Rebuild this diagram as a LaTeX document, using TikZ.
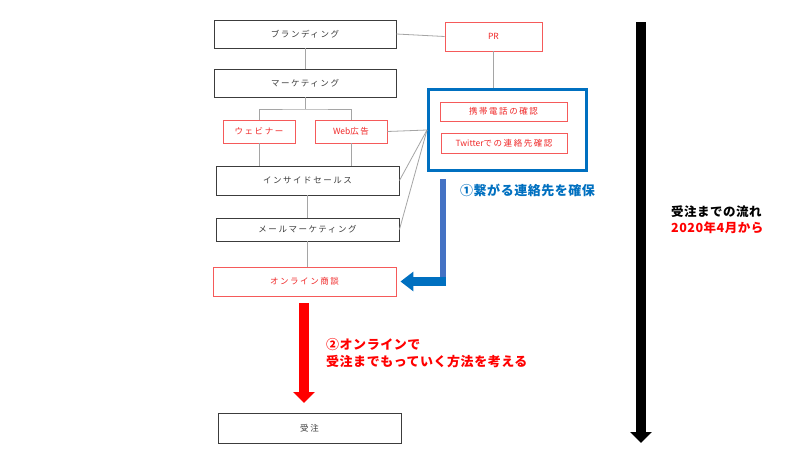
\documentclass[tikz,border=0pt]{standalone}
\usepackage{fontspec}
\setmainfont{Noto Sans CJK JP}
\newfontfamily\jpsp[LetterSpace=18]{Noto Sans CJK JP}
\newfontfamily\jpnl{Noto Sans CJK JP}
\newfontfamily\jphd[LetterSpace=4]{Noto Sans CJK JP}
\usetikzlibrary{arrows.meta}
\definecolor{boxgray}{RGB}{60,60,60}
\definecolor{linegray}{RGB}{165,165,165}
\definecolor{boxred}{RGB}{245,90,90}
\definecolor{txtred}{RGB}{240,40,40}
\definecolor{hdred}{RGB}{255,0,0}
\definecolor{bluedark}{RGB}{0,112,192}
\definecolor{bluelight}{RGB}{68,114,196}
\tikzset{
  gbox/.style={draw=boxgray, line width=0.9pt, rectangle, inner sep=0pt, text=boxgray, font=\jpsp\fontsize{8.5}{10}\selectfont},
  rbox/.style={draw=boxred, line width=0.9pt, rectangle, inner sep=0pt, text=txtred, font=\jpsp\fontsize{8.5}{10}\selectfont},
  conn/.style={draw=linegray, line width=0.8pt},
  hd/.style={anchor=west, inner sep=0pt, align=left, font=\jphd\bfseries\fontsize{13}{17}\selectfont}
}
\begin{document}
\begin{tikzpicture}[x=1pt,y=-1pt]
\useasboundingbox[fill=white] (0,0) rectangle (800,450);
% boxes
\node[gbox, minimum width=182pt, minimum height=28pt] (brand) at (305,34) {ブランディング};
\node[gbox, minimum width=182pt, minimum height=28pt] (mkt) at (305,83) {マーケティング};
\node[rbox, minimum width=97pt, minimum height=29pt] (pr) at (493.5,36.5) {\jpnl PR};
\node[rbox, minimum width=72pt, minimum height=23pt] (web) at (259,131.5) {ウェビナー};
\node[rbox, minimum width=72pt, minimum height=23pt] (wad) at (351,131.5) {{\jpnl Web}広告};
\node[gbox, minimum width=183pt, minimum height=29pt] (inside) at (307.5,180.5) {インサイドセールス};
\node[gbox, minimum width=183pt, minimum height=23pt] (mail) at (307.5,229.5) {メールマーケティング};
\node[rbox, minimum width=183pt, minimum height=29pt] (online) at (304.5,281.5) {オンライン商談};
\node[gbox, minimum width=183pt, minimum height=30pt] (order) at (309.5,428) {受注};
\node[draw=bluedark, line width=3pt, rectangle, inner sep=0pt, minimum width=158pt, minimum height=81pt] (bbox) at (507.5,130) {};
\node[rbox, minimum width=127pt, minimum height=19pt] (tel) at (503.5,111.5) {携帯電話の確認};
\node[rbox, minimum width=126pt, minimum height=20pt] (tw) at (504,143) {{\jpnl Twitter}での連絡先確認};
% connectors
\coordinate (fk) at (305,109);
\draw[conn] (brand.south) -- (mkt.north);
\draw[conn] (brand.east) -- (pr.west);
\draw[conn] (pr.south) -- (pr.south |- bbox.north);
\draw[conn] (mkt.south) -- (fk);
\draw[conn] (web.north) |- (fk) -| (wad.north);
\draw[conn] (web.south) -- (web.south |- inside.north);
\draw[conn] (wad.south) -- (wad.south |- inside.north);
\draw[conn] (inside.south -| mail.north) -- (mail.north);
\draw[conn] (mail.south) -- (mail.south |- online.north);
\draw[conn] (wad.east) -- (bbox.west);
\draw[conn] (inside.east) -- (bbox.west);
\draw[conn] (mail.east) -- (bbox.west);
% blue arrow
\coordinate (btip) at ([xshift=4pt]online.east);
\fill[bluelight] (440,179) rectangle (446,286);
\draw[bluedark, line width=9pt, -{Triangle[length=13pt,width=19pt]}] (446,281.5) -- (btip);
\node[hd, text=bluedark] (t1) at (460,190) {①繋がる連絡先を確保};
% red arrow
\coordinate (rst) at (304,303);
\coordinate (rend) at (304,403);
\draw[hdred, line width=10pt, -{Triangle[length=11pt,width=21pt]}] (rst) -- (rend);
\node[hd, text=hdred] (t2) at (326,353.5) {②オンラインで\\受注までもっていく方法を考える};
% black arrow
\coordinate (kst) at (641,22);
\coordinate (kend) at (641,443);
\draw[black, line width=10pt, -{Triangle[length=11pt,width=21pt]}] (kst) -- (kend);
\node[hd, text=black, font=\jphd\bfseries\fontsize{12.5}{16}\selectfont] (t3) at (671,220) {受注までの流れ\\\textcolor{hdred}{2020年4月から}};
\end{tikzpicture}
\end{document}
